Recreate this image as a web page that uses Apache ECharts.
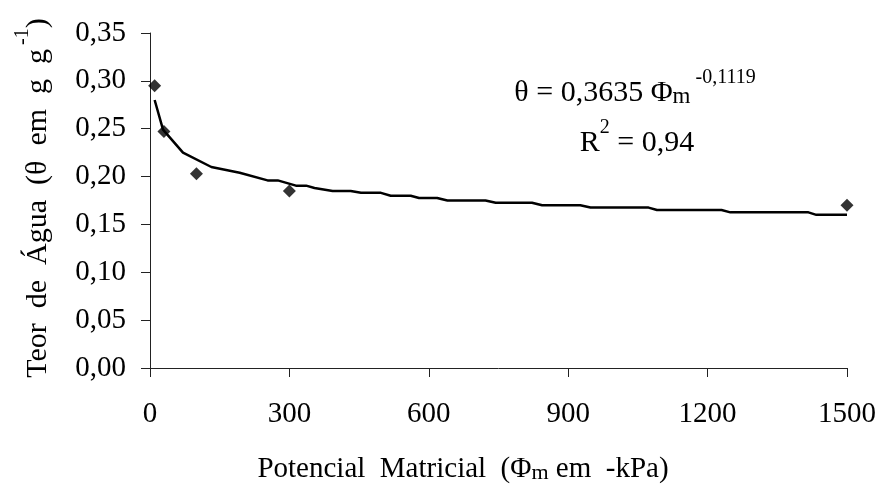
<!DOCTYPE html>
<html>
<head>
<meta charset="utf-8">
<script src="https://cdn.jsdelivr.net/npm/echarts@6/dist/echarts.min.js"></script>
<style>html,body{margin:0;padding:0;background:#fff;}#c{width:879px;height:484px;}</style>
</head>
<body>
<div id="c"></div>
<script>
// Observed data points
var pointsX = [10, 30, 100, 300, 1500];
var pointsY = [0.295, 0.247, 0.203, 0.185, 0.170];
// Fitted curve
var lineX = [10, 28, 71, 132, 193, 253, 275, 314, 336, 354, 393, 432, 454, 497, 518, 561, 579, 618, 640, 722, 744, 822, 844, 926, 948, 1073, 1091, 1230, 1249, 1417, 1434, 1500];
var lineY = [0.280, 0.249, 0.225, 0.210, 0.204, 0.196, 0.196, 0.1905, 0.1905, 0.188, 0.185, 0.185, 0.183, 0.183, 0.180, 0.180, 0.1776, 0.1776, 0.175, 0.175, 0.1727, 0.1727, 0.170, 0.170, 0.1676, 0.1676, 0.165, 0.165, 0.1626, 0.1626, 0.160, 0.160];
// Axis ticks
var xTicks = [0, 300, 600, 900, 1200, 1500];
var yTicks = [0, 0.05, 0.10, 0.15, 0.20, 0.25, 0.30, 0.35];

var FONT = 'Liberation Serif';
var FS = 29;
var FT = 30;

var chart = echarts.init(document.getElementById('c'), null, {renderer: 'canvas'});
var option = {
  animation: false,
  backgroundColor: '#fff',
  grid: {left: 150, right: 31, top: 33, bottom: 116, containLabel: false},
  xAxis: {
    type: 'value', min: xTicks[0], max: xTicks[xTicks.length - 1], interval: xTicks[1] - xTicks[0],
    splitLine: {show: false},
    axisLine: {show: true, lineStyle: {color: '#222', width: 1}},
    axisTick: {show: true, inside: false, length: 9, lineStyle: {color: '#222'}},
    axisLabel: {margin: 32, fontFamily: FONT, fontSize: FS, color: '#000', formatter: function (v) { return String(v); }}
  },
  yAxis: {
    type: 'value', min: yTicks[0], max: yTicks[yTicks.length - 1], interval: 0.05,
    splitLine: {show: false},
    axisLine: {show: true, lineStyle: {color: '#222', width: 1}},
    axisTick: {show: true, inside: false, length: 9, lineStyle: {color: '#222'}},
    axisLabel: {margin: 24, fontFamily: FONT, fontSize: FS, color: '#000', formatter: function (v) { return v.toFixed(2).replace('.', ','); }}
  },
  series: [
    {
      type: 'line', data: lineX.map(function (x, i) { return [x, lineY[i]]; }),
      showSymbol: false, symbol: 'none', lineStyle: {color: '#000', width: 2.5}, z: 2
    },
    {
      type: 'scatter', data: pointsX.map(function (x, i) { return [x, pointsY[i]]; }),
      symbol: 'diamond', symbolSize: 13, itemStyle: {color: '#000'}, z: 3
    }
  ],
  graphic: [
    {
      type: 'text', x: 33, y: 198, rotation: Math.PI / 2,
      style: {
        text: '{a|Teor  de  Água  (θ  em  g  g}{s|-1}{a|)}',
        align: 'center', verticalAlign: 'middle',
        rich: {
          a: {fontFamily: FONT, fontSize: FT, lineHeight: 40, fill: '#000', verticalAlign: 'bottom'},
          s: {fontFamily: FONT, fontSize: 20, lineHeight: 18, fill: '#000', verticalAlign: 'top', padding: [0, 0, 0, 4]}
        }
      }
    },
    {
      type: 'text', x: 463, y: 466,
      style: {
        text: '{a|Potencial  Matricial  (Φ}{m|m}{a| em  -kPa)}',
        align: 'center', verticalAlign: 'middle',
        rich: {
          a: {fontFamily: FONT, fontSize: FS, lineHeight: 36, fill: '#000', verticalAlign: 'bottom'},
          m: {fontFamily: FONT, fontSize: 22, lineHeight: 32, fill: '#000', verticalAlign: 'bottom'}
        }
      }
    },
    {
      type: 'text', x: 635, y: 88,
      style: {
        text: '{a|θ = 0,3635 Φ}{m|m}{s| -0,1119}',
        align: 'center', verticalAlign: 'middle',
        rich: {
          a: {fontFamily: FONT, fontSize: FT, lineHeight: 40, fill: '#000', verticalAlign: 'bottom'},
          m: {fontFamily: FONT, fontSize: 23, lineHeight: 36, fill: '#000', verticalAlign: 'bottom'},
          s: {fontFamily: FONT, fontSize: 20, lineHeight: 20, fill: '#000', verticalAlign: 'top'}
        }
      }
    },
    {
      type: 'text', x: 637, y: 138,
      style: {
        text: '{a|R}{s|2}{a| = 0,94}',
        align: 'center', verticalAlign: 'middle',
        rich: {
          a: {fontFamily: FONT, fontSize: FT, lineHeight: 40, fill: '#000', verticalAlign: 'bottom'},
          s: {fontFamily: FONT, fontSize: 20, lineHeight: 20, fill: '#000', verticalAlign: 'top'}
        }
      }
    }
  ]
};
chart.setOption(option);
</script>
</body>
</html>
